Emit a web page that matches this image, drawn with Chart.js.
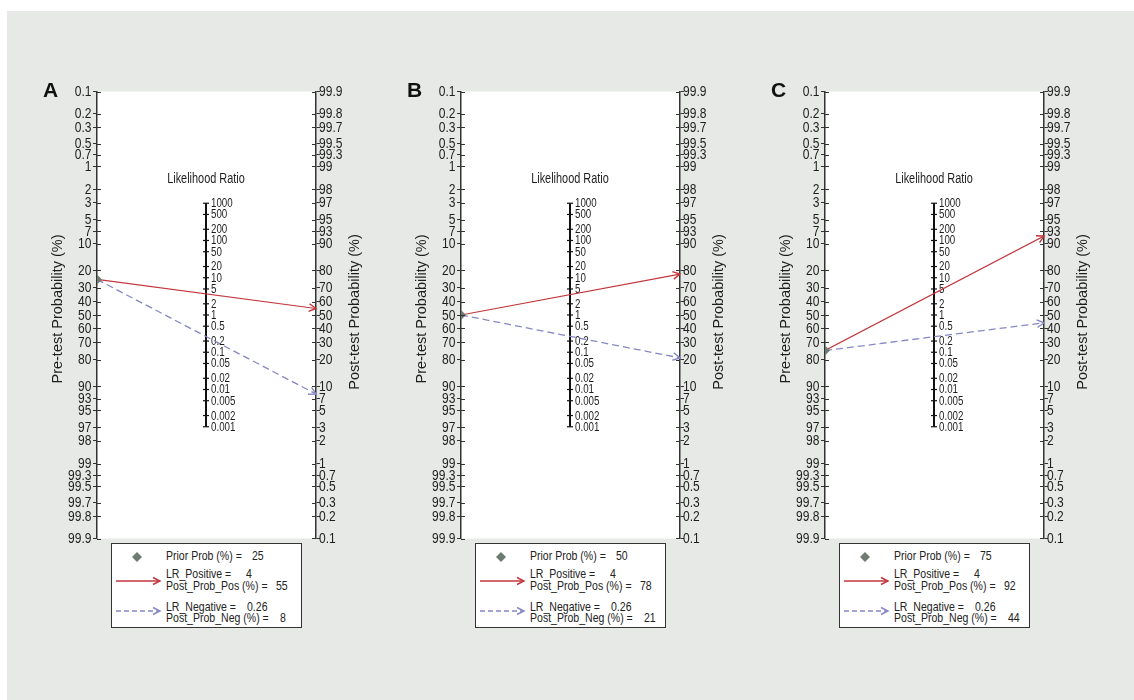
<!DOCTYPE html>
<html><head><meta charset="utf-8">
<script src="https://cdn.jsdelivr.net/npm/chart.js@4.4.1/dist/chart.umd.min.js"></script>
<style>
html,body{margin:0;padding:0;background:#fff;width:1134px;height:700px;overflow:hidden;position:relative;}
#bg{position:absolute;left:7px;top:11px;right:0;bottom:0;background:#e6e9e6;}
canvas{position:absolute;}
.letter{position:absolute;font:bold 21px 'Liberation Sans',Arial,sans-serif;color:#111;line-height:1;}
.legend{position:absolute;box-sizing:border-box;width:191px;height:85px;background:#fff;border:1.5px solid #333;}
.legend svg{position:absolute;left:0;top:0;}
.lt{position:absolute;font:13px 'Liberation Sans',Arial,sans-serif;color:#222;line-height:14px;white-space:pre;transform:scaleX(0.81);transform-origin:0 0;}
</style></head><body><div id="bg"></div>
<script>
// ---- data ----
const panels = ['A', 'B', 'C'];
const priorProb = [25, 50, 75];
const lrPositive = [4, 4, 4];
const lrNegative = [0.26, 0.26, 0.26];
const postProbPos = [55, 78, 92];
const postProbNeg = [8, 21, 44];
const preTickLabels = ['0.1','0.2','0.3','0.5','0.7','1','2','3','5','7','10','20','30','40','50','60','70','80','90','93','95','97','98','99','99.3','99.5','99.7','99.8','99.9'];
const postTickLabels = ['99.9','99.8','99.7','99.5','99.3','99','98','97','95','93','90','80','70','60','50','40','30','20','10','7','5','3','2','1','0.7','0.5','0.3','0.2','0.1'];
const lrTickLabels = ['1000','500','200','100','50','20','10','5','2','1','0.5','0.2','0.1','0.05','0.02','0.01','0.005','0.002','0.001'];

// ---- helpers ----
const FONT_R = "'Liberation Sans',Arial,sans-serif";
const logit = p => Math.log(p / (100 - p));
const U = logit(99.9);
const AXIS = '#333';
const TXT = '#1e1e1e';
const RED = '#c2363c';
const BLUE = '#8787c6';
const GREY = '#6e7b70';

function sText(ctx, txt, x, y, sx, align) {
  ctx.save();
  ctx.translate(x, y);
  ctx.scale(sx, 1);
  ctx.textAlign = align;
  ctx.fillText(txt, 0, 0);
  ctx.restore();
}

const nomogramPlugin = {
  id: 'nomogram',
  beforeDraw(chart) {
    const {ctx, chartArea: a} = chart;
    ctx.save();
    ctx.fillStyle = '#fff';
    ctx.fillRect(a.left, a.top, a.right - a.left, a.bottom - a.top);
    ctx.restore();
  },
  beforeDatasetsDraw(chart) {
    const {ctx} = chart;
    const xs = chart.scales.x, ys = chart.scales.y;
    const mx = Math.round(xs.getPixelForValue(1)) - 1;
    const vals = lrTickLabels.map(parseFloat);
    const yTop = ys.getPixelForValue(Math.log(Math.max(...vals)) / 2);
    const yBot = ys.getPixelForValue(Math.log(Math.min(...vals)) / 2);
    ctx.save();
    ctx.strokeStyle = '#111';
    ctx.lineWidth = 2;
    ctx.beginPath(); ctx.moveTo(mx, yTop); ctx.lineTo(mx, yBot); ctx.stroke();
    ctx.lineWidth = 1.2;
    ctx.font = '12.5px ' + FONT_R;
    ctx.fillStyle = TXT;
    ctx.textBaseline = 'middle';
    lrTickLabels.forEach((lab, k) => {
      const y = ys.getPixelForValue(Math.log(vals[k]) / 2);
      ctx.beginPath(); ctx.moveTo(mx - 3, y); ctx.lineTo(mx + 3, y); ctx.stroke();
      sText(ctx, lab, mx + 5, y + 0.5, 0.78, 'left');
    });
    ctx.font = '14px ' + FONT_R;
    sText(ctx, 'Likelihood Ratio', mx, yTop - 24, 0.78, 'center');
    ctx.restore();
  },
  afterDatasetsDraw(chart) {
    const {ctx} = chart;
    chart.data.datasets.forEach((ds, di) => {
      if (!ds.arrow) return;
      const pts = chart.getDatasetMeta(di).data;
      const p0 = pts[pts.length - 2], p1 = pts[pts.length - 1];
      const ang = Math.atan2(p1.y - p0.y, p1.x - p0.x);
      const L = 8, w = 0.5;
      ctx.save();
      ctx.strokeStyle = ds.borderColor;
      ctx.lineWidth = 1.4;
      ctx.setLineDash([]);
      ctx.beginPath();
      ctx.moveTo(p1.x - L * Math.cos(ang - w), p1.y - L * Math.sin(ang - w));
      ctx.lineTo(p1.x, p1.y);
      ctx.lineTo(p1.x - L * Math.cos(ang + w), p1.y - L * Math.sin(ang + w));
      ctx.stroke();
      ctx.restore();
    });
  },
  afterDraw(chart) {
    const {ctx, chartArea: a} = chart;
    const yl = chart.scales.y, yr = chart.scales.y2;
    ctx.save();
    ctx.strokeStyle = AXIS;
    ctx.lineWidth = 1;
    ctx.fillStyle = TXT;
    ctx.font = '14.5px ' + FONT_R;
    ctx.textBaseline = 'middle';
    yl.ticks.forEach(t => {
      const yp = yl.getPixelForValue(t.value);
      const y = Math.round(yp) + 0.5;
      ctx.beginPath(); ctx.moveTo(a.left, y); ctx.lineTo(a.left + 4, y); ctx.stroke();
      sText(ctx, t.label, a.left - 5.5, yp + 0.5, 0.83, 'right');
    });
    yr.ticks.forEach(t => {
      const yp = yr.getPixelForValue(t.value);
      const y = Math.round(yp) + 0.5;
      ctx.beginPath(); ctx.moveTo(a.right - 4, y); ctx.lineTo(a.right, y); ctx.stroke();
      sText(ctx, t.label, a.right + 3, yp + 0.5, 0.83, 'left');
    });
    const cy = (a.top + a.bottom) / 2;
    ctx.font = '14.5px ' + FONT_R;
    ctx.textAlign = 'center';
    ctx.save(); ctx.translate(a.left - 39, cy - 6); ctx.rotate(-Math.PI / 2);
    ctx.fillText('Pre-test Probability (%)', 0, 0); ctx.restore();
    ctx.save(); ctx.translate(a.right + 39, cy - 3); ctx.rotate(-Math.PI / 2);
    ctx.fillText('Post-test Probability (%)', 0, 0); ctx.restore();
    ctx.restore();
  }
};

function makeLegend(i, axisL) {
  const box = document.createElement('div');
  box.className = 'legend';
  box.style.left = (axisL + 14) + 'px';
  box.style.top = '543px';
  box.innerHTML =
    '<svg width="188" height="82">' +
    '<polygon points="25,8 30,13 25,18 20,13" fill="' + GREY + '"/>' +
    '<line x1="4" y1="37" x2="48" y2="37" stroke="' + RED + '" stroke-width="1.3"/>' +
    '<polyline points="41,33.5 48,37 41,40.5" fill="none" stroke="' + RED + '" stroke-width="1.4"/>' +
    '<line x1="4" y1="67" x2="47" y2="67" stroke="' + BLUE + '" stroke-width="1.3" stroke-dasharray="5,3"/>' +
    '<polyline points="41,63.5 48,67 41,70.5" fill="none" stroke="' + BLUE + '" stroke-width="1.4"/>' +
    '</svg>';
  const items = [
    ['Prior Prob (%) =', priorProb[i], 13, 141],
    ['LR_Positive =', lrPositive[i], 31, 135],
    ['Post_Prob_Pos (%) =', postProbPos[i], 43, 165],
    ['LR_Negative =', lrNegative[i], 63.5, 136],
    ['Post_Prob_Neg (%) =', postProbNeg[i], 75, 169]
  ];
  items.forEach(([lab, val, cy, vx]) => {
    const t = document.createElement('div');
    t.className = 'lt';
    t.style.left = '54px'; t.style.top = (cy - 8) + 'px';
    t.textContent = lab;
    box.appendChild(t);
    const v = document.createElement('div');
    v.className = 'lt';
    v.style.left = (vx - 1) + 'px'; v.style.top = (cy - 8) + 'px';
    v.textContent = String(val);
    box.appendChild(v);
  });
  document.body.appendChild(box);
}

panels.forEach((name, i) => {
  const axisL = 97 + 364 * i;
  const cv = document.createElement('canvas');
  cv.width = 329; cv.height = 490;
  cv.style.left = (axisL - 60) + 'px';
  cv.style.top = '70px';
  document.body.appendChild(cv);

  const letter = document.createElement('div');
  letter.className = 'letter';
  letter.textContent = name;
  letter.style.left = (axisL - 54) + 'px';
  letter.style.top = '79px';
  document.body.appendChild(letter);

  const uPrior = -logit(priorProb[i]);
  new Chart(cv, {
    type: 'scatter',
    data: {
      datasets: [
        { label: 'Prior Prob', data: [{x: 0, y: uPrior}], showLine: false,
          pointStyle: 'rectRot', pointRadius: 5, backgroundColor: GREY, borderColor: GREY, borderWidth: 0 },
        { label: 'LR_Positive', data: [{x: 0, y: uPrior}, {x: 2, y: logit(postProbPos[i])}], showLine: true,
          borderColor: RED, borderWidth: 1.2, pointRadius: 0, arrow: true },
        { label: 'LR_Negative', data: [{x: 0, y: uPrior}, {x: 2, y: logit(postProbNeg[i])}], showLine: true,
          borderColor: BLUE, borderWidth: 1.3, borderDash: [7, 4], pointRadius: 0, arrow: true }
      ]
    },
    options: {
      responsive: false,
      animation: false,
      devicePixelRatio: 1,
      layout: { padding: { top: 21.5, bottom: 21.5, left: 0, right: 0 } },
      plugins: { legend: { display: false }, tooltip: { enabled: false } },
      scales: {
        x: { type: 'linear', min: 0, max: 2, display: false },
        y: {
          type: 'linear', position: 'left', min: -U, max: U,
          afterBuildTicks: s => { s.ticks = preTickLabels.map(l => ({ value: -logit(parseFloat(l)) })); },
          afterFit: s => { s.width = 60; },
          ticks: { display: false, autoSkip: false, callback: (v, k) => preTickLabels[k] },
          grid: { drawOnChartArea: false, drawTicks: true, tickLength: 4, color: AXIS, lineWidth: 1 },
          border: { display: true, color: AXIS, width: 1.5 }
        },
        y2: {
          type: 'linear', position: 'right', min: -U, max: U,
          afterBuildTicks: s => { s.ticks = postTickLabels.map(l => ({ value: logit(parseFloat(l)) })); },
          afterFit: s => { s.width = 50; },
          ticks: { display: false, autoSkip: false, callback: (v, k) => postTickLabels[k] },
          grid: { drawOnChartArea: false, drawTicks: true, tickLength: 4, color: AXIS, lineWidth: 1 },
          border: { display: true, color: AXIS, width: 1.5 }
        }
      }
    },
    plugins: [nomogramPlugin]
  });
  makeLegend(i, axisL);
});
</script></body></html>
